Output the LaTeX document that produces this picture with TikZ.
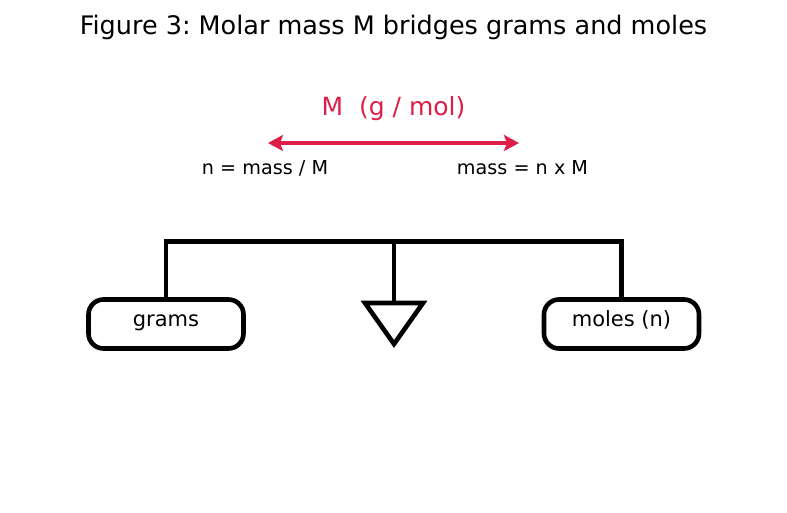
\documentclass[tikz,border=0pt]{standalone}
\usepackage{fontspec}
\setmainfont{DejaVu Sans}
\usetikzlibrary{arrows.meta}
\definecolor{crim}{RGB}{220,30,72}
\frenchspacing
\begin{document}
\begin{tikzpicture}[x=1pt,y=-1pt,
  box/.style={draw, line width=4.6pt, rounded corners=15pt, minimum width=155pt,
    minimum height=49pt, inner sep=0pt, text height=14pt, text depth=10pt,
    font=\fontsize{21}{24}\selectfont},
  lbl/.style={anchor=base, inner sep=0pt},
  beamline/.style={line width=5pt, line cap=rect},
  post/.style={line width=4.6pt},
  link/.style={crim, line width=4.6pt, {Stealth[length=15pt,width=16pt,inset=3pt]}-{Stealth[length=15pt,width=16pt,inset=3pt]}}]
\useasboundingbox (0,0) rectangle (787,512);
% title
\node[lbl, font=\fontsize{25.5}{30}\selectfont] (title) at (393.5,34) {Figure 3: Molar mass M bridges grams and moles};
% molar mass label and arrow
\node[lbl, text=crim, font=\fontsize{25}{29}\selectfont] (mlabel) at (393.5,115) {M\ \ (g / mol)};
\coordinate (al) at (268,143);
\coordinate (ar) at (519,143);
\draw[link] (al) -- (ar);
\node[lbl, font=\fontsize{19.2}{22}\selectfont] (left) at (265,174.5) {n = mass / M};
\node[lbl, font=\fontsize{19.2}{22}\selectfont] (right) at (522.5,174.5) {mass = n x M};
% boxes
\node[box] (grams) at (166,324) {grams};
\node[box] (moles) at (621.5,324) {moles (n)};
% beam
\coordinate (bl) at (166,241);
\coordinate (bm) at (394,241);
\coordinate (br) at (621.5,241);
\draw[beamline] (bl) -- (br);
% fulcrum
\coordinate (f1) at (365,303);
\coordinate (f2) at (423,303);
\coordinate (f3) at (394,344);
\coordinate (ftop) at (394,304);
\draw[line width=4.6pt, miter limit=10] (f1) -- (f2) -- (f3) -- cycle;
% posts
\draw[post] (bl) -- ([yshift=-4pt]grams.north);
\draw[post] (bm) -- (ftop);
\draw[post] (br) -- ([yshift=-4pt]moles.north);
\end{tikzpicture}
\end{document}
